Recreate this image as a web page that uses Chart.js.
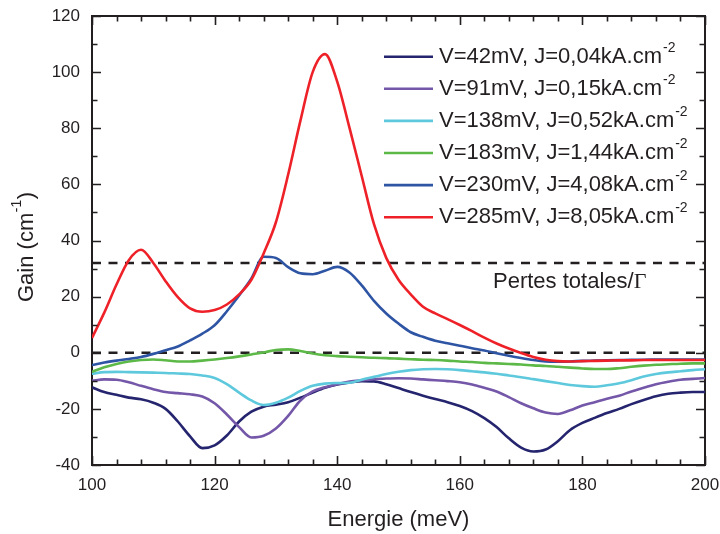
<!DOCTYPE html>
<html>
<head>
<meta charset="utf-8">
<style>
html,body{margin:0;padding:0;background:#ffffff;}
canvas{display:block;}
</style>
<script src="https://cdn.jsdelivr.net/npm/chart.js@4.4.1/dist/chart.umd.min.js"></script>
</head>
<body>
<canvas id="c" width="720" height="534"></canvas>
<script>
// ---------- data ----------
const energy = [100,102,104,106,108,110,112,114,116,118,120,122,124,126,128,130,132,134,136,138,140,142,144,146,148,150,152,154,156,158,160,162,164,166,168,170,172,174,176,178,180,182,184,186,188,190,192,194,196,198,200];

const gainV42 = [-12.3,-14.0,-15.0,-16.0,-16.6,-17.8,-20.0,-24.5,-29.8,-34.0,-33.0,-29.5,-24.5,-21.0,-19.2,-18.5,-17.6,-16.0,-14.2,-12.5,-11.3,-10.6,-10.1,-10.2,-11.2,-12.6,-14.0,-15.3,-16.5,-17.6,-19.0,-20.8,-23.3,-26.5,-30.5,-33.8,-35.2,-34.5,-31.5,-27.5,-25.0,-23.2,-21.5,-20.0,-18.3,-16.8,-15.5,-14.6,-14.2,-14.0,-14.0];
const gainV91 = [-10.0,-9.5,-9.6,-10.5,-11.8,-13.0,-14.0,-14.4,-14.8,-15.6,-18.0,-22.0,-26.5,-30.2,-29.6,-27.0,-22.5,-17.0,-13.8,-12.3,-11.2,-10.3,-9.8,-9.4,-9.2,-9.1,-9.2,-9.5,-9.8,-10.1,-10.5,-11.3,-12.5,-13.8,-15.8,-18.0,-19.8,-21.3,-21.8,-20.5,-18.8,-17.6,-16.4,-15.3,-13.8,-12.5,-11.2,-10.3,-9.6,-9.3,-9.0];
const gainV138 = [-7.5,-6.9,-6.8,-6.9,-7.0,-7.1,-7.2,-7.4,-7.6,-8.1,-9.0,-11.2,-14.2,-17.0,-18.6,-17.8,-16.0,-13.6,-11.8,-11.0,-10.8,-10.7,-9.6,-8.6,-7.6,-6.8,-6.2,-5.9,-5.8,-5.9,-6.2,-6.6,-7.0,-7.5,-8.1,-8.7,-9.4,-10.1,-10.8,-11.5,-11.9,-12.1,-11.6,-10.9,-9.8,-8.5,-7.6,-7.0,-6.6,-6.2,-5.9];
const gainV183 = [-6.8,-5.2,-4.0,-3.1,-2.6,-2.4,-2.7,-3.1,-3.1,-2.8,-2.4,-1.9,-1.3,-0.6,0.1,1.0,1.2,0.6,-0.3,-0.9,-1.2,-1.4,-1.6,-1.8,-1.9,-2.1,-2.3,-2.5,-2.6,-2.8,-3.1,-3.3,-3.6,-3.8,-4.0,-4.2,-4.5,-4.7,-5.0,-5.3,-5.6,-5.8,-5.8,-5.5,-5.0,-4.6,-4.3,-4.1,-3.9,-3.8,-3.8];
const gainV230 = [-4.4,-3.5,-2.8,-2.2,-1.5,-0.4,0.9,2.2,4.4,6.8,9.8,14.8,20.4,26.5,34.2,33.8,30.5,28.3,28.0,29.2,30.6,28.6,24.0,18.5,14.0,10.4,7.3,5.7,4.3,3.4,2.5,1.6,0.8,-0.2,-1.1,-1.9,-2.6,-3.1,-3.2,-3.1,-2.9,-2.8,-2.7,-2.6,-2.5,-2.5,-2.4,-2.4,-2.4,-2.4,-2.4];
const gainV285 = [5.3,14.3,24.3,33.0,36.7,32.0,25.5,19.8,15.8,14.6,15.2,17.2,20.8,26.0,35.4,46.5,63.5,82.7,100.0,106.4,96.6,80.2,63.0,45.8,33.8,26.0,20.8,16.4,14.0,12.0,9.9,7.7,5.4,3.3,1.5,-0.1,-1.5,-2.5,-3.0,-3.1,-3.0,-2.9,-2.8,-2.7,-2.7,-2.6,-2.6,-2.6,-2.6,-2.6,-2.6];

const seriesLabels = ['V=42mV, J=0,04kA.cm','V=91mV, J=0,15kA.cm','V=138mV, J=0,52kA.cm','V=183mV, J=1,44kA.cm','V=230mV, J=4,08kA.cm','V=285mV, J=8,05kA.cm'];
const seriesLabelSup = ['-2','-2','-2','-2','-2','-2'];
const seriesColors = ['#25246e','#7457a8','#5ec9dc','#5cb947','#2e54a4','#ee2128'];

const lossLevel = 32;     // "Pertes totales/Γ"
const zeroLevel = 0;
const xRange = [100, 200];
const yRange = [-40, 120];
const xTickValues = [100,120,140,160,180,200];
const yTickValues = [-40,-20,0,20,40,60,80,100,120];
const xMinorStep = 4;
const yMinorStep = 10;
const xTitle = 'Energie (meV)';
const yTitleMain = 'Gain (cm';
const yTitleSup = '-1';
const yTitleEnd = ')';
const lossText = 'Pertes totales/';
const lossSymbol = 'Γ';

// ---------- style ----------
const FONT = "'Liberation Sans', Arial, Helvetica, sans-serif";
const SERIF = "'Liberation Serif', 'Times New Roman', serif";
const TXT = '#231f20';

const allSeries = [gainV42, gainV91, gainV138, gainV183, gainV230, gainV285];
const datasets = allSeries.map((s, i) => ({
  label: seriesLabels[i] + seriesLabelSup[i],
  data: energy.map((e, k) => ({x: e, y: s[k]})),
  borderColor: seriesColors[i],
  backgroundColor: seriesColors[i],
  borderWidth: 2.6,
  pointRadius: 0,
  fill: false,
  cubicInterpolationMode: 'monotone',
  order: allSeries.length - i
}));
[lossLevel, zeroLevel].forEach(level => {
  datasets.push({
    label: 'ref' + level,
    data: xRange.map(e => ({x: e, y: level})),
    borderColor: TXT,
    borderWidth: 2.4,
    borderDash: [9, 7.5],
    pointRadius: 0,
    fill: false,
    order: 20
  });
});

// inward tick marks on all four sides
const frameTicks = {
  id: 'frameTicks',
  afterDraw(chart) {
    const {ctx, chartArea: a, scales: {x, y}} = chart;
    ctx.save();
    ctx.strokeStyle = TXT;
    ctx.lineWidth = 1.6;
    ctx.beginPath();
    for (let v = xRange[0]; v <= xRange[1]; v += xMinorStep) {
      const px = Math.round(x.getPixelForValue(v)) + 0.5;
      const L = xTickValues.includes(v) ? 9 : 5.5;
      ctx.moveTo(px, a.bottom); ctx.lineTo(px, a.bottom - L);
      ctx.moveTo(px, a.top); ctx.lineTo(px, a.top + L);
    }
    for (let v = yRange[0]; v <= yRange[1]; v += yMinorStep) {
      const py = Math.round(y.getPixelForValue(v)) + 0.5;
      const L = yTickValues.includes(v) ? 9 : 5.5;
      ctx.moveTo(a.left, py); ctx.lineTo(a.left + L, py);
      ctx.moveTo(a.right, py); ctx.lineTo(a.right - L, py);
    }
    ctx.stroke();
    ctx.restore();
  }
};

// legend, y title, loss label
const texts = {
  id: 'texts',
  afterDraw(chart) {
    const {ctx, scales: {x, y}} = chart;
    ctx.save();
    ctx.fillStyle = TXT;
    // legend
    const lx0 = 384, lx1 = 433, tx = 439, ty0 = 56.7, dy = 32.1;
    seriesLabels.forEach((lab, i) => {
      const yy = ty0 + i * dy;
      ctx.strokeStyle = seriesColors[i];
      ctx.lineWidth = 2.6;
      ctx.beginPath(); ctx.moveTo(lx0, yy); ctx.lineTo(lx1, yy); ctx.stroke();
      ctx.font = '22px ' + FONT;
      ctx.textBaseline = 'middle';
      ctx.textAlign = 'left';
      ctx.fillText(lab, tx, yy);
      const w = ctx.measureText(lab).width;
      ctx.font = '14px ' + FONT;
      ctx.fillText(seriesLabelSup[i], tx + w + 1, yy - 9);
    });
    // loss label
    const ly = y.getPixelForValue(lossLevel) + 19;
    ctx.font = '22px ' + FONT;
    ctx.textBaseline = 'middle';
    ctx.fillText(lossText, 493, ly);
    const lw = ctx.measureText(lossText).width;
    ctx.font = '22px ' + SERIF;
    ctx.fillText(lossSymbol, 493 + lw, ly);
    // y title (rotated)
    ctx.save();
    ctx.translate(26.5, 247);
    ctx.rotate(-Math.PI / 2);
    ctx.font = '22px ' + FONT;
    const w1 = ctx.measureText(yTitleMain).width;
    const w3 = ctx.measureText(yTitleEnd).width;
    ctx.font = '14px ' + FONT;
    const w2 = ctx.measureText(yTitleSup).width;
    const total = w1 + w2 + 1 + w3;
    let cx = -total / 2;
    ctx.textAlign = 'left';
    ctx.textBaseline = 'middle';
    ctx.font = '22px ' + FONT;
    ctx.fillText(yTitleMain, cx, 0);
    ctx.font = '14px ' + FONT;
    ctx.fillText(yTitleSup, cx + w1 + 0.5, -9);
    ctx.font = '22px ' + FONT;
    ctx.fillText(yTitleEnd, cx + w1 + w2 + 1, 0);
    ctx.restore();
    ctx.restore();
  }
};

const tickFont = {family: FONT, size: 17};
const noPadX = s => { s.paddingLeft = 0; s.paddingRight = 0; };
const noPadY = s => { s.paddingTop = 0; s.paddingBottom = 0; };
new Chart(document.getElementById('c').getContext('2d'), {
  type: 'line',
  data: {datasets},
  options: {
    responsive: false,
    animation: false,
    layout: {padding: 0},
    plugins: {legend: {display: false}, tooltip: {enabled: false}},
    scales: {
      x: {
        type: 'linear', position: 'bottom', min: xRange[0], max: xRange[1],
        afterBuildTicks: s => { s.ticks = xTickValues.map(v => ({value: v})); },
        ticks: {font: tickFont, color: TXT, padding: 10, maxRotation: 0, autoSkip: false},
        grid: {display: false, drawTicks: false},
        border: {display: true, color: TXT, width: 2},
        title: {display: true, text: xTitle, color: TXT, font: {family: FONT, size: 22}, padding: {top: 0, bottom: 1}},
        afterFit: s => { s.height = 69; noPadX(s); }
      },
      x2: {
        type: 'linear', position: 'top', min: xRange[0], max: xRange[1],
        ticks: {display: false},
        grid: {display: false, drawTicks: false},
        border: {display: true, color: TXT, width: 2},
        afterFit: s => { s.height = 16; noPadX(s); }
      },
      y: {
        type: 'linear', position: 'left', min: yRange[0], max: yRange[1],
        afterBuildTicks: s => { s.ticks = yTickValues.map(v => ({value: v})); },
        ticks: {font: tickFont, color: TXT, padding: 12, autoSkip: false},
        grid: {display: false, drawTicks: false},
        border: {display: true, color: TXT, width: 2},
        afterFit: s => { s.width = 92; noPadY(s); }
      },
      y2: {
        type: 'linear', position: 'right', min: yRange[0], max: yRange[1],
        ticks: {display: false},
        grid: {display: false, drawTicks: false},
        border: {display: true, color: TXT, width: 2},
        afterFit: s => { s.width = 15; noPadY(s); }
      }
    }
  },
  plugins: [frameTicks, texts]
});
</script>
</body>
</html>
